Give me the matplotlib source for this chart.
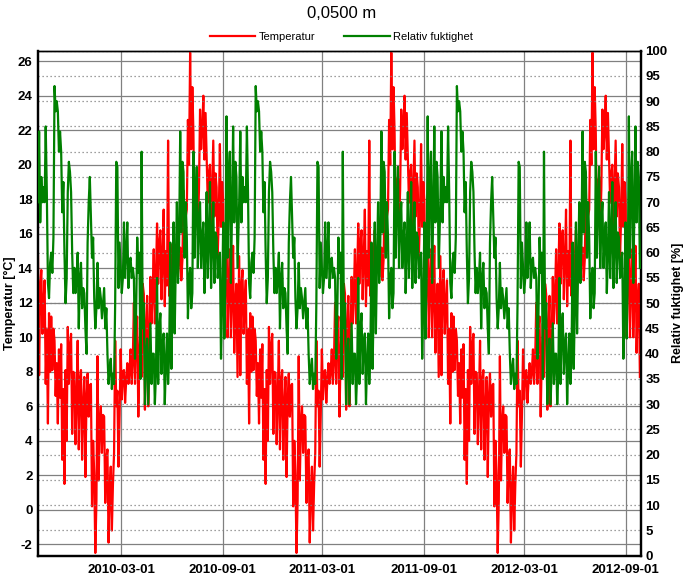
import numpy as np
import matplotlib
matplotlib.use("Agg")
import matplotlib.pyplot as plt
import matplotlib.dates as mdates
from matplotlib.ticker import FixedLocator

# ---------------- data ----------------
# The series repeat year after year; one year is read, sampled every 2 days
year_starts = ["2009-10-01", "2010-10-01", "2011-10-01"]
step_days = 2

temp_year = [
    14.7, 7.8, 13.0, 13.9, 10.2, 12.0, 13.3, 7.3, 10.5, 5.0, 11.4, 8.0,
    11.2, 8.1, 10.5, 9.8, 6.6, 8.5, 5.0, 9.3, 6.5, 9.6, 2.9, 7.0,
    1.5, 8.1, 4.0, 10.6, 7.3, 9.5, 10.2, 4.4, 8.0, 7.9, 3.8, 6.5,
    9.8, 3.5, 7.5, 8.1, 2.9, 6.0, 7.7, 1.9, 6.5, 7.9, 5.4, 7.2,
    7.3, 0.2, 4.0, 2.1, -2.5, 0.5, 8.9, 1.7, 5.0, 6.0, 3.3, 5.5,
    5.4, 0.4, 3.0, 3.5, -1.9, 1.0, 2.5, -1.2, 1.5, 3.3, 9.8, 6.0,
    6.9, 2.5, 5.5, 9.3, 6.4, 8.0, 8.1, 6.2, 7.5, 8.5, 7.3, 8.0,
    9.3, 7.3, 8.7, 12.0, 7.3, 10.5,
    11.2, 5.4, 9.0, 10.8, 7.7, 13.1, 12.5, 5.8, 10.5, 12.4, 6.0, 10.0,
    13.5, 10.8, 12.5, 15.1, 10.8, 13.5, 16.6, 13.1, 15.5, 16.2, 12.2, 14.5,
    17.4, 11.8, 15.0, 13.0, 21.4, 12.4, 15.4, 12.4, 14.5, 16.2, 13.5, 15.0,
    15.4, 13.5, 14.8, 15.2, 13.3, 14.5, 18.5, 14.9, 17.0, 17.4, 22.6, 20.0,
    26.5, 20.9, 24.5, 21.8, 15.8, 19.0, 19.3, 16.4, 18.5, 23.2, 20.9, 22.0,
    24.0, 20.3, 23.0, 20.3, 17.8, 19.5, 20.0, 15.8, 18.5, 21.4, 17.0, 19.5,
    18.7, 14.7, 17.0, 21.2, 16.4, 19.0, 17.8, 10.0, 14.0, 16.4, 10.0, 13.0,
    15.1, 10.0, 12.5, 15.3, 9.1, 12.0, 13.1, 7.7,
]

rh_year = [
    70, 84, 66, 75, 70, 73, 70, 85, 72, 54, 51, 58,
    60, 56, 63, 93, 88, 90, 88, 80, 84, 80, 68, 74,
    60, 50, 55, 72, 78, 76, 72, 60, 52, 57, 52, 55,
    60, 45, 55, 58, 49, 53, 52, 45, 40, 62, 70, 75,
    67, 59, 63, 51, 45, 49, 58, 49, 53, 51, 47, 50,
    53, 45, 49, 40, 34, 37, 39, 33, 36, 34, 50, 78,
    77, 53, 62, 57, 52, 55, 66, 55, 60, 66, 53, 58,
    59, 55, 57, 55, 39, 48,
    63, 56, 60, 35, 80, 45, 50, 30, 40, 43, 30, 38,
    46, 34, 40, 40, 30, 36, 55, 34, 45, 48, 36, 42,
    44, 30, 38, 44, 34, 40, 62, 37, 50, 66, 44, 58,
    70, 54, 62, 84, 64, 78, 76, 59, 70, 63, 47, 55,
    57, 49, 52, 80, 59, 70, 77, 57, 66, 70, 57, 63,
    66, 52, 60, 72, 55, 63, 74, 53, 62, 70, 54, 64,
    63, 55, 58, 60, 39, 50, 66, 43, 55, 87, 59, 75,
    80, 54, 68, 85, 66, 78, 75, 57,
]

temp_ticks = list(range(-2, 27, 2))
rh_ticks = list(range(0, 101, 5))
date_ticks = ["2010-03-01", "2010-09-01", "2011-03-01",
              "2011-09-01", "2012-03-01", "2012-09-01"]
x_range = ["2009-10-01", "2012-09-29"]
temp_range = (-2.66, 26.61)
rh_range = (0, 100)

title = "0,0500 m"
temp_label = "Temperatur"
rh_label = "Relativ fuktighet"

# ---------------- build series ----------------
dates, temp, rh = [], [], []
for s in year_starts:
    d0 = np.datetime64(s, "D")
    dates.extend(d0 + np.arange(len(temp_year)) * np.timedelta64(step_days, "D"))
    temp.extend(temp_year)
    rh.extend(rh_year)
dates = np.array(dates, dtype="datetime64[D]").astype("datetime64[ms]").astype(object)

# ---------------- plot ----------------
plt.rcParams["font.family"] = ["Liberation Sans", "DejaVu Sans"]
plt.rcParams["axes.unicode_minus"] = False

W, H = 683, 582
L, R, T, B = 38, 641, 50.7, 555.7
fig = plt.figure(figsize=(W / 100, H / 100), dpi=100)
ax = fig.add_axes([L / W, 1 - B / H, (R - L) / W, (B - T) / H])
ax2 = ax.twinx()

grid_col = "#808080"
ax.plot(dates, temp, color="#ff0000", lw=1.6, label=temp_label, zorder=3)
ax2.plot(dates, rh, color="#008000", lw=1.6, label=rh_label, zorder=3)

ax.set_xlim(np.datetime64(x_range[0]).astype(object), np.datetime64(x_range[1]).astype(object))
ax.set_ylim(*temp_range)
ax2.set_ylim(*rh_range)

ax.yaxis.set_major_locator(FixedLocator(temp_ticks))
ax2.yaxis.set_major_locator(FixedLocator(rh_ticks))
ax.xaxis.set_major_locator(FixedLocator(
    [mdates.date2num(np.datetime64(d).astype(object)) for d in date_ticks]))
ax.xaxis.set_major_formatter(mdates.DateFormatter("%Y-%m-%d"))

# grids: solid for temperature + dates, dotted for humidity
ax.grid(True, which="major", axis="both", color=grid_col, lw=0.9, ls="-", zorder=0)
ax2.grid(True, which="major", axis="y", color=grid_col, lw=0.9, ls=(0, (1, 2.2)), zorder=0)
ax.set_axisbelow(True)
ax2.set_axisbelow(True)
ax.set_zorder(1)
ax2.set_zorder(2)
ax2.patch.set_visible(False)

for a in (ax, ax2):
    for name, sp in a.spines.items():
        sp.set_color("black")
        sp.set_linewidth(1.0 if name == "top" else 1.6)
    a.tick_params(length=0, labelsize=9.5)
    for lab in a.get_xticklabels() + a.get_yticklabels():
        lab.set_fontweight("bold")
ax.tick_params(axis="y", pad=4)
ax.tick_params(axis="x", pad=6)
ax2.tick_params(axis="y", pad=3)

ax.set_ylabel("Temperatur [°C]", fontsize=9, fontweight="bold")
ax2.set_ylabel("Relativ fuktighet [%]", fontsize=9, fontweight="bold")
ax.yaxis.set_label_coords((16.5 - L) / (R - L), 0.5)
ax2.yaxis.set_label_coords((672 - L) / (R - L), 0.5)

fig.text(0.5, 1 - 13 / H, title, ha="center", va="center", fontsize=12)

h1, l1 = ax.get_legend_handles_labels()
h2, l2 = ax2.get_legend_handles_labels()
fig.legend(h1 + h2, l1 + l2, loc="center", bbox_to_anchor=(0.5, 1 - 36.5 / H),
           ncol=2, frameon=False, fontsize=8, handlelength=4.1,
           handletextpad=0.3, columnspacing=2.6)

fig.savefig("out.png", dpi=100)
